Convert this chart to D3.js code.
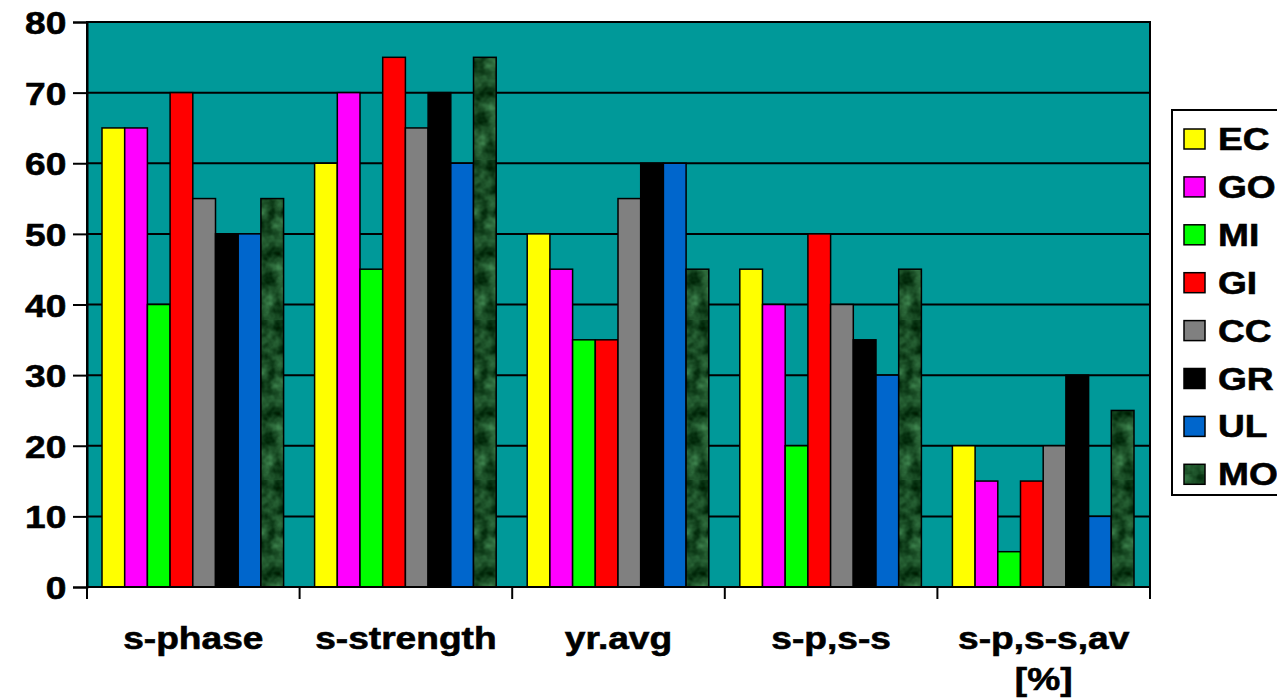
<!DOCTYPE html>
<html><head><meta charset="utf-8">
<script src="https://cdn.jsdelivr.net/npm/d3@7"></script>
<style>body{margin:0;background:#fff;}svg{display:block;font-family:"Liberation Sans",Arial,sans-serif;font-weight:bold;}</style>
</head><body><svg id="c" width="1277" height="698"></svg>
<script>
const categories = ["s-phase","s-strength","yr.avg","s-p,s-s","s-p,s-s,av\n[%]"];
const series = ["EC","GO","MI","GI","CC","GR","UL","MO"];
const EC = [65,60,50,45,20];
const GO = [65,70,45,40,15];
const MI = [40,45,35,20,5];
const GI = [70,75,35,50,15];
const CC = [55,65,55,40,20];
const GR = [50,70,60,35,30];
const UL = [50,60,60,30,10];
const MO = [55,75,45,45,25];
const values = {EC,GO,MI,GI,CC,GR,UL,MO};
const colors = {EC:"#ffff00",GO:"#ff00ff",MI:"#00ff00",GI:"#ff0000",CC:"#808080",GR:"#000000",UL:"#0066cc",MO:"url(#marble)"};
const yTicks = [0,10,20,30,40,50,60,70,80];

const svg = d3.select("#c");
const defs = svg.append("defs");
const f = defs.append("filter").attr("id","mf").attr("x",0).attr("y",0).attr("width","100%").attr("height","100%")
  .attr("color-interpolation-filters","sRGB");
f.append("feTurbulence").attr("type","fractalNoise").attr("baseFrequency","0.07").attr("numOctaves",3).attr("seed",4).attr("result","n");
f.append("feColorMatrix").attr("in","n").attr("type","matrix")
 .attr("values","0.4 0 0 0 -0.1  0.6 0 0 0 0.0  0.45 0 0 0 -0.08  0 0 0 0 1");
const pat = defs.append("pattern").attr("id","marble").attr("patternUnits","userSpaceOnUse").attr("width",80).attr("height",160);
pat.append("rect").attr("width",80).attr("height",160).attr("fill","#1d4a2c");
pat.append("rect").attr("width",80).attr("height",160).attr("filter","url(#mf)");

const L=87,R=1150,T=22,B=587;
const x = d3.scaleBand().domain(categories).range([L,R]);
const bw = x.bandwidth();
const xs = d3.scaleBand().domain(series).range([15,bw-16]);
const y = d3.scaleLinear().domain([0,80]).range([B,T]);

svg.append("rect").attr("x",L).attr("y",T).attr("width",R-L).attr("height",B-T).attr("fill","#009999");
svg.append("g").selectAll("line").data(yTicks).join("line")
  .attr("x1",L).attr("x2",R).attr("y1",d=>y(d)).attr("y2",d=>y(d)).attr("stroke","#000").attr("stroke-width",2);

const g = svg.append("g").selectAll("g").data(categories).join("g").attr("transform",d=>`translate(${x(d)},0)`);
g.selectAll("rect").data((c,i)=>series.map(s=>({s,v:values[s][i]}))).join("rect")
  .attr("x",d=>xs(d.s)).attr("width",xs.bandwidth()).attr("y",d=>y(d.v)).attr("height",d=>B-y(d.v))
  .attr("fill",d=>colors[d.s]).attr("stroke","#000").attr("stroke-width",1.5);

svg.append("rect").attr("x",L).attr("y",T).attr("width",R-L).attr("height",B-T).attr("fill","none").attr("stroke","#000").attr("stroke-width",2);

const ya = svg.append("g").attr("transform",`translate(${L},0)`)
  .call(d3.axisLeft(y).tickValues(yTicks).tickSize(14).tickPadding(4));
ya.select(".domain").attr("stroke","#000").attr("stroke-width",2);
ya.selectAll(".tick line").attr("stroke","#000").attr("stroke-width",2);
ya.selectAll(".tick text").attr("font-size",32).attr("font-weight","bold").attr("fill","#000")
  .attr("stroke","#000").attr("stroke-width",0.6)
  .attr("font-family","Liberation Sans, Arial").attr("dy","0.36em")
  .attr("transform","translate(-30,0) scale(1.16,1) translate(26,0)");

const bounds = categories.map(c=>x(c)).concat([R]);
svg.append("g").selectAll("line").data(bounds).join("line")
  .attr("x1",d=>d).attr("x2",d=>d).attr("y1",B).attr("y2",B+12).attr("stroke","#000").attr("stroke-width",2);

categories.forEach(c=>{
  const lines = c.split("\n");
  const cx = x(c)+bw/2;
  lines.forEach((ln,i)=>{
    svg.append("text").attr("transform",`translate(${cx},${649+i*41}) scale(1.16,1)`)
      .attr("text-anchor","middle").attr("font-size",32).attr("fill","#000")
      .attr("stroke","#000").attr("stroke-width",0.6).text(ln);
  });
});

svg.append("rect").attr("x",1172).attr("y",110).attr("width",120).attr("height",385)
  .attr("fill","#fff").attr("stroke","#000").attr("stroke-width",2);
const lg = svg.append("g").selectAll("g").data(series).join("g")
  .attr("transform",(d,i)=>`translate(1184,${139+i*47.9})`);
lg.append("rect").attr("x",0).attr("y",-10).attr("width",21).attr("height",20)
  .attr("fill",d=>colors[d]).attr("stroke","#000").attr("stroke-width",1.5);
lg.append("text").attr("transform","translate(34,11) scale(1.16,1)").attr("font-size",32).attr("fill","#000")
  .attr("stroke","#000").attr("stroke-width",0.6).text(d=>d);
</script></body></html>
